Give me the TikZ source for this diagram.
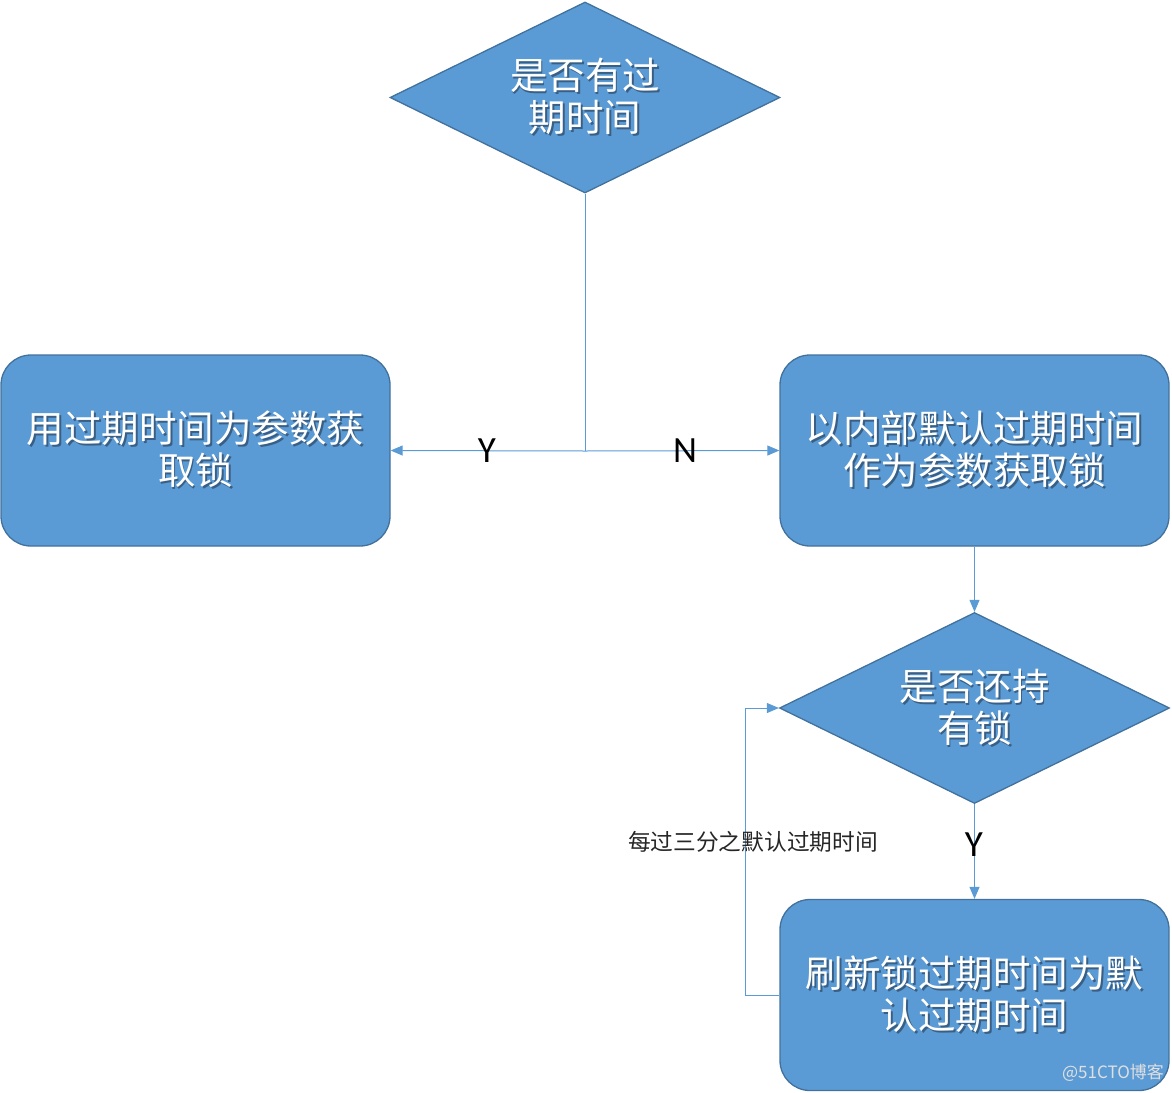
\documentclass[tikz,border=0pt]{standalone}
\usepackage{fontspec}
\setmainfont{Carlito}
\newfontfamily\cjk{Noto Sans CJK SC}
\usetikzlibrary{shapes.geometric,arrows.meta}
\definecolor{boxfill}{HTML}{5B9BD5}
\definecolor{boxline}{HTML}{41719C}
\definecolor{conn}{HTML}{5B9BD5}
\definecolor{shadowc}{HTML}{3A5F85}
\newcommand\shtxt[1]{{\rlap{\kern1.8pt\raisebox{-1.8pt}{\color{shadowc}#1}}#1}}
\tikzset{
  box/.style={draw=boxline, line width=1.3pt, fill=boxfill, rounded corners=30pt,
    minimum width=389pt, minimum height=191pt, inner sep=0pt, align=center,
    text=white, font=\cjk\fontsize{37.5}{42}\selectfont},
  dia/.style={diamond, draw=boxline, line width=1.3pt, fill=boxfill, shape aspect=2.04,
    minimum width=390pt, minimum height=191pt, inner sep=0pt, align=center,
    text=white, font=\cjk\fontsize{37.5}{42}\selectfont},
  conline/.style={draw=conn, line width=1pt},
  arr/.style={conline, -{Triangle[length=12pt,width=10pt]}},
  yn/.style={font=\fontsize{37}{40}\selectfont, text=black, inner sep=0pt},
  note/.style={font=\cjk\fontsize{22.7}{26}\selectfont, text=black!85, inner sep=0pt},
}
\begin{document}
\begin{tikzpicture}[x=1pt,y=-1pt]
\useasboundingbox (0,0) rectangle (1172,1092);
\node[dia] (d1) at (585,97.5) {\shtxt{是否有过}\\\shtxt{期时间}};
\node[box] (b1) at (195.5,450.5) {\shtxt{用过期时间为参数获}\\\shtxt{取锁}};
\node[box] (b2) at (974.5,450.5) {\shtxt{以内部默认过期时间}\\\shtxt{作为参数获取锁}};
\node[dia] (d2) at (974.5,708) {\shtxt{是否还持}\\\shtxt{有锁}};
\node[box] (b3) at (974.5,995) {\shtxt{刷新锁过期时间为默}\\\shtxt{认过期时间}};
\coordinate (j) at (585,451);
\draw[conline] (d1.south) -- (j);
\draw[arr] (j) -- (b1.east);
\draw[arr] (j) -- (b2.west);
\node[yn] (ly) at (487,451) {Y};
\node[yn] (ln) at (685,451) {N};
\draw[arr] (b2.south) -- (d2.north);
\draw[arr] (d2.south) -- (b3.north);
\node[yn] (ly2) at (974,845) {Y};
\coordinate (lp) at (745,995);
\draw[arr] (b3.west) -- (lp) |- (d2.west);
\node[note] (nt) at (753,842) {每过三分之默认过期时间};
\node[font=\cjk\fontsize{17}{20}\selectfont, text=white!75!gray, inner sep=0pt] (wm) at (1113,1073) {@51CTO博客};
\end{tikzpicture}
\end{document}
